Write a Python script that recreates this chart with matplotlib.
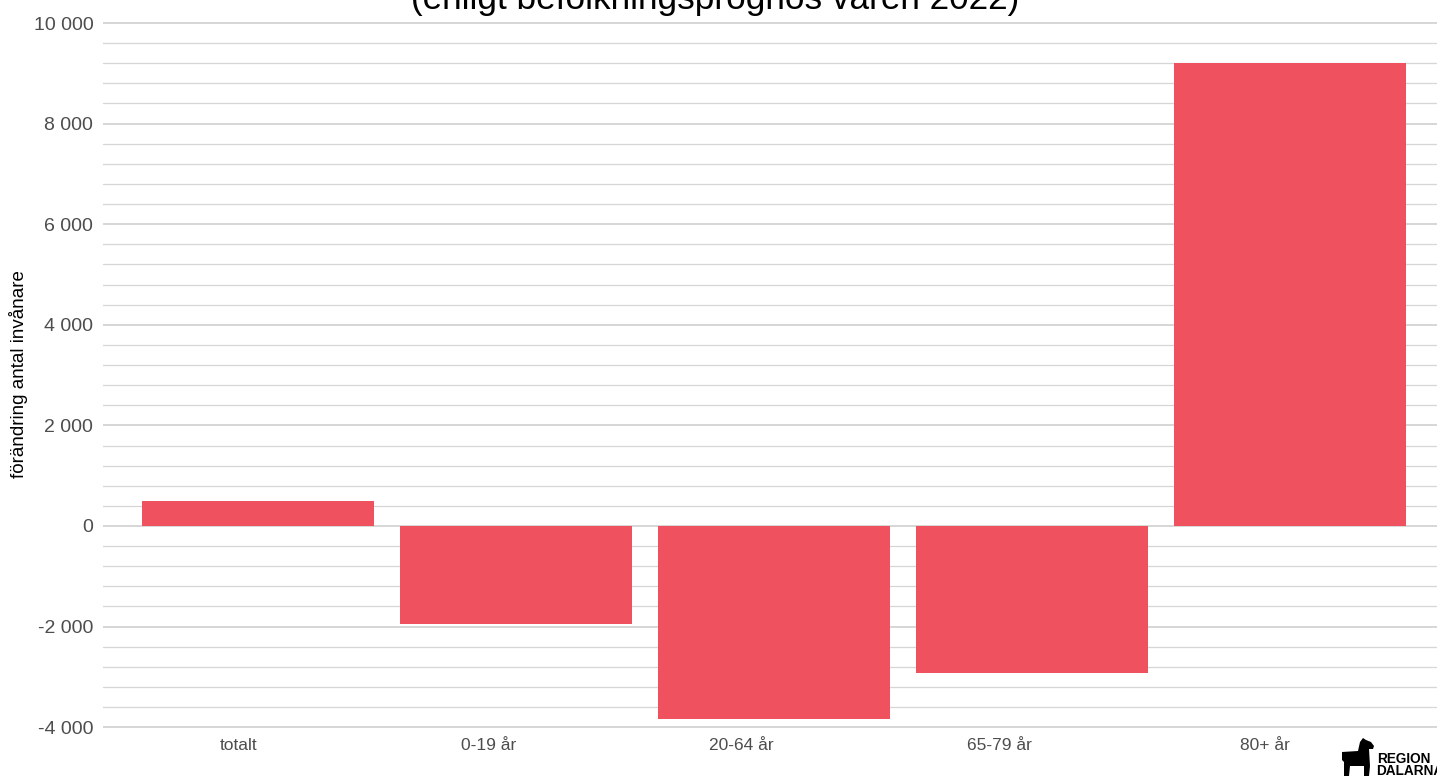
import matplotlib
matplotlib.use("Agg")
import matplotlib.pyplot as plt
from matplotlib.patches import Polygon
from matplotlib.ticker import FuncFormatter, MultipleLocator

plt.rcParams['font.family'] = ['Liberation Sans', 'DejaVu Sans']

# Befolkningsförändring per åldersgrupp
categories = ["totalt", "0-19 år", "20-64 år", "65-79 år", "80+ år"]
change = [500, -1950, -3840, -2920, 9200]

bar_color = "#F0515F"
grid_color = "#D6D6D6"
text_gray = "#4D4D4D"

W, H = 1437, 776
fig = plt.figure(figsize=(W / 100, H / 100), dpi=100)

# axes placed in pixel terms; the right edge runs past the canvas
ylo, yhi = -4150, 10150
px_per_unit = 100.6 / 2000
y_zero = 526
top_px = y_zero - yhi * px_per_unit
bot_px = y_zero - ylo * px_per_unit
left_px = 103
width_px = 5.2 * 258
ax = fig.add_axes([left_px / W, (H - bot_px) / H, width_px / W, (bot_px - top_px) / H])

x = range(1, len(categories) + 1)
ax.bar(x, change, width=0.9, color=bar_color, zorder=3)

ax.set_xlim(0.4, 5.6)
ax.set_ylim(ylo, yhi)
ax.set_xticks(list(x))
ax.set_xticklabels(categories, ha="right")

ax.yaxis.set_major_locator(MultipleLocator(2000))
ax.yaxis.set_minor_locator(MultipleLocator(400))
ax.yaxis.set_major_formatter(FuncFormatter(lambda v, p: f"{int(v):,}".replace(",", " ")))
ax.grid(axis="y", which="major", color=grid_color, linewidth=1.4, zorder=0)
ax.grid(axis="y", which="minor", color=grid_color, linewidth=0.9, zorder=0)
ax.grid(axis="x", visible=False)

for s in ax.spines.values():
    s.set_visible(False)
ax.tick_params(axis="both", which="both", length=0)
ax.tick_params(axis="y", labelsize=14, labelcolor=text_gray, pad=7)
ax.tick_params(axis="x", labelsize=12.5, labelcolor=text_gray, pad=2)

ax.set_ylabel("förändring antal invånare", fontsize=13.5, color="black", labelpad=0)
ax.yaxis.set_label_coords(-(103 - 28) / width_px, (bot_px - 374) / (bot_px - top_px))

fig.text(715 / W, 1 - 9 / H, "(enligt befolkningsprognos våren 2022)",
         ha="center", va="baseline", fontsize=25.3, color="black")

# Region Dalarna logo in the corner
horse = [(1342, 752), (1358, 751), (1360, 742), (1363, 738), (1366, 740), (1371, 742),
         (1374, 746), (1373, 749), (1369, 749), (1370, 766), (1369, 776), (1364, 776),
         (1364, 766), (1350, 766), (1349, 776), (1344, 776), (1344, 762), (1342, 760)]
fig.patches.append(Polygon([(px / W, 1 - py / H) for px, py in horse], closed=True,
                           facecolor="black", edgecolor="none",
                           transform=fig.transFigure, figure=fig))
fig.text(1377 / W, 1 - 763 / H, "REGION", fontsize=9.8, fontweight="bold",
         ha="left", va="baseline", color="black")
fig.text(1376 / W, 1 - 775 / H, "DALARNA", fontsize=9.8, fontweight="bold",
         ha="left", va="baseline", color="black")

fig.savefig("out.png", dpi=100)
